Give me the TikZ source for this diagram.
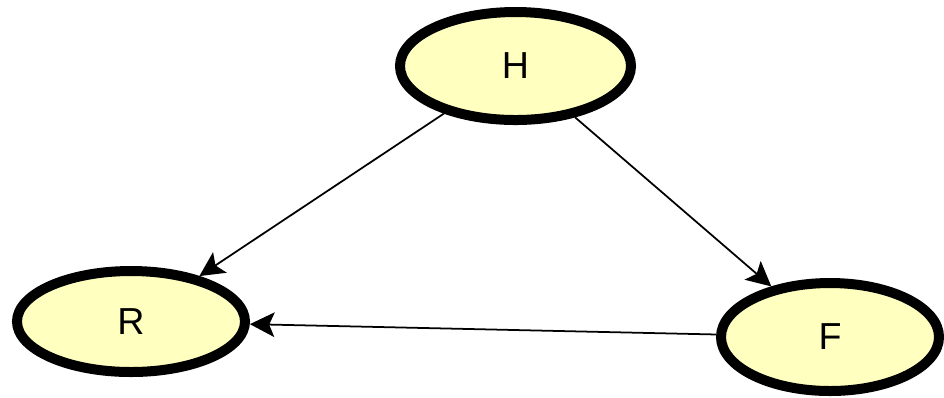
\documentclass[tikz,border=0pt]{standalone}
\usepackage{fontspec}
\setmainfont{Liberation Sans}
\usepackage{tikz}
\usetikzlibrary{arrows.meta, shapes.geometric}

\begin{document}
\begin{tikzpicture}[>={Stealth[length=7pt, width=7pt, inset=1.5pt]}, font=\fontsize{10.7}{12}\selectfont]
\definecolor{nodeyellow}{RGB}{255, 255, 192}
\tikzset{var node/.style={ellipse, draw, line width=0.1cm, fill=nodeyellow, inner sep=0pt},
         link/.style={->, line width=0.5pt}}
\useasboundingbox (0,0) rectangle (9.44,3.97);
% Nodes
\node[var node, minimum width=2.31cm, minimum height=1.08cm] (H) at (5.155, 3.31) {H};
\node[var node, minimum width=2.28cm, minimum height=1.01cm] (R) at (1.31, 0.755) {R};
\node[var node, minimum width=2.18cm, minimum height=1.08cm] (F) at (8.30, 0.60) {F};
% Links
\draw[link] (H) -- (R);
\draw[link] (H) -- (F);
\draw[link] (F) -- (R);
\end{tikzpicture}
\end{document}
